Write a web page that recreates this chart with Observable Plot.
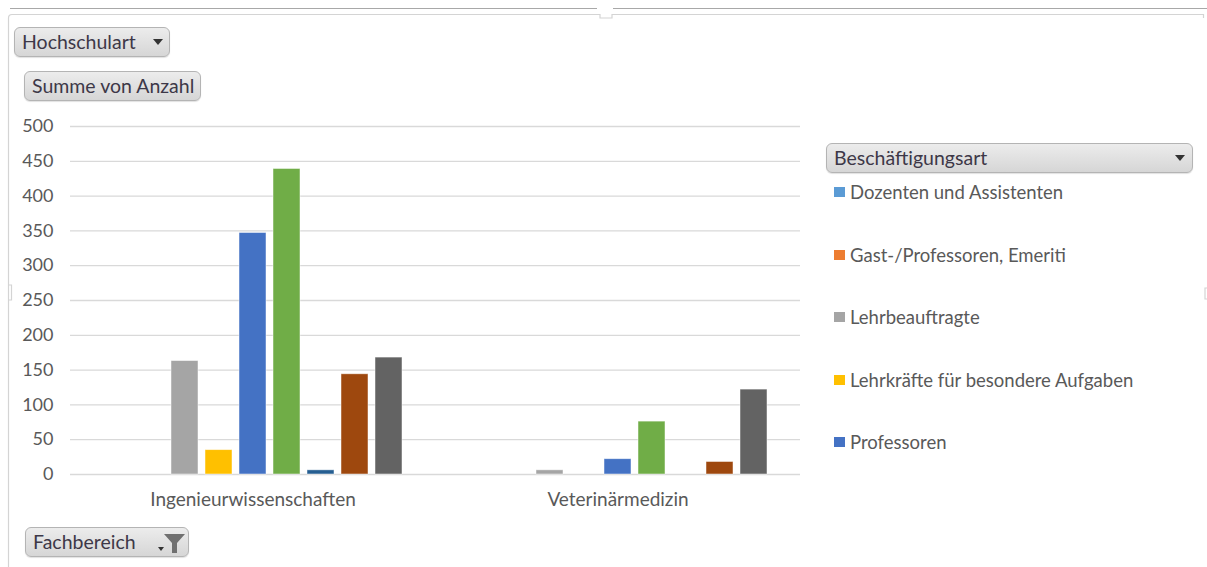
<!DOCTYPE html>
<html lang="de">
<head>
<meta charset="utf-8">
<script src="https://cdn.jsdelivr.net/npm/d3@7"></script>
<script src="https://cdn.jsdelivr.net/npm/@observablehq/plot@0.6"></script>
<style>
  html, body { margin: 0; padding: 0; background: #fff; }
  #page { position: relative; width: 1207px; height: 567px; overflow: hidden; font-family: Lato, "Open Sans", sans-serif; }
  #chart { position: absolute; left: 0; top: 0; }
  .btn {
    position: absolute; box-sizing: border-box; height: 30px;
    border: 1px solid #b4b4b4; border-radius: 6px;
    background: linear-gradient(#ececec, #d6d6d6);
    box-shadow: 0 1px 1px rgba(0,0,0,0.12);
    color: #3d3848; font-size: 19.5px; line-height: 28px; padding-left: 7px;
    white-space: nowrap;
  }
  .btn .tri { position: absolute; top: 11px; width: 0; height: 0;
    border-left: 5px solid transparent; border-right: 5px solid transparent; border-top: 6px solid #333; }
  #legend { position: absolute; left: 834px; top: 0; }
  .entry { position: absolute; left: 0; white-space: nowrap; font-size: 18.5px; color: #595959; line-height: 20px; }
  .entry .sw { position: absolute; left: 0; top: 5px; width: 11px; height: 10px; }
  .entry .tx { position: absolute; left: 16px; top: 0; }
  #frame { position: absolute; left: 0; top: 0; pointer-events: none; }
</style>
</head>
<body>
<div id="page">
  <svg id="frame" width="1207" height="567"></svg>
  <div id="chart"></div>
  <div class="btn" style="left:14px; top:27px; width:156px;">Hochschulart<span class="tri" style="left:138px"></span></div>
  <div class="btn" style="left:24px; top:71px; width:177px;">Summe von Anzahl</div>
  <div class="btn" style="left:826px; top:143px; width:367px;">Beschäftigungsart<span class="tri" style="left:348px"></span></div>
  <div class="btn" style="left:25px; top:527px; width:164px;">Fachbereich
    <svg style="position:absolute; left:130px; top:4px" width="30" height="22" viewBox="0 0 30 22">
      <path d="M2 15 L8 15 L5 19 Z" fill="#333"/>
      <path d="M8 2 L29 2 L21 11 L21 21 L16 21 L16 11 Z" fill="#707070"/>
    </svg>
  </div>
  <div id="legend"></div>
</div>
<script>
// Fachbereiche (Kategorien der x-Achse)
const fachbereiche = ["Ingenieurwissenschaften", "Veterinärmedizin"];

// Beschäftigungsarten (Reihen), in Pivot-Reihenfolge
const arten = [
  "Dozenten und Assistenten",
  "Gast-/Professoren, Emeriti",
  "Lehrbeauftragte",
  "Lehrkräfte für besondere Aufgaben",
  "Professoren",
  "Studentische Hilfskräfte",
  "Tutoren",
  "Wissenschaftliche Hilfskräfte",
  "Wissenschaftliche Mitarbeiter"
];

// Reihenfarben
const farben = ["#5B9BD5", "#ED7D31", "#A5A5A5", "#FFC000", "#4472C4", "#70AD47", "#255E91", "#9E480E", "#636363"];

// Summe von Anzahl je Fachbereich (null = kein Eintrag)
const anzahlIngenieur = [null, null, 163, 35, 347, 439, 6, 144, 168];
const anzahlVeterinaer = [null, null, 6, null, 22, 76, null, 18, 122];

// y-Achsenbeschriftung
const yTicks = [0, 50, 100, 150, 200, 250, 300, 350, 400, 450, 500];

// Legende zeigt nur die ersten fünf Einträge
const legendeAnzahl = 5;

const werte = [anzahlIngenieur, anzahlVeterinaer];
const rows = [];
fachbereiche.forEach((fach, j) => {
  arten.forEach((art, i) => {
    const v = werte[j][i];
    if (v != null) rows.push({fach, art, wert: v});
  });
});

const chart = Plot.plot({
  width: 820,
  height: 520,
  marginLeft: 70,
  marginRight: 20,
  marginTop: 126,
  marginBottom: 46,
  style: {fontFamily: "Lato, 'Open Sans', sans-serif", fontSize: "18px", color: "#595959", background: "transparent", overflow: "visible"},
  fx: {domain: fachbereiche, padding: 0, label: null},
  x: {domain: arten, paddingInner: 0.217, paddingOuter: 0.898, axis: null},
  y: {domain: [0, 500], label: null},
  color: {domain: arten, range: farben},
  marks: [
    Plot.gridY(yTicks, {stroke: "#d9d9d9", strokeOpacity: 1, strokeWidth: 1.3}),
    Plot.axisY(yTicks, {tickSize: 0, tickPadding: 17, label: null, fill: "#595959"}),
    Plot.axisFx({anchor: "bottom", tickSize: 0, tickPadding: 18, label: null, fill: "#595959", fontSize: 19}),
    Plot.barY(rows, {fx: "fach", x: "art", y: "wert", fill: "art", stroke: "#ffffff", strokeOpacity: 0.6, strokeWidth: 0.8})
  ]
});
document.getElementById("chart").append(chart);

// Legende aus der Farbskala des Diagramms
const color = chart.scale("color");
const legend = document.getElementById("legend");
const legendY = d3.scaleLinear().domain([0, legendeAnzahl - 1]).range([182, 432]);
arten.slice(0, legendeAnzahl).forEach((art, i) => {
  const e = document.createElement("div");
  e.className = "entry";
  e.style.top = legendY(i) + "px";
  const sw = document.createElement("span");
  sw.className = "sw";
  sw.style.background = color.apply(art);
  const tx = document.createElement("span");
  tx.className = "tx";
  tx.textContent = art;
  e.append(sw, tx);
  legend.append(e);
});

// Rahmen des Diagrammobjekts
const frame = d3.select("#frame");
frame.append("path").attr("d", "M10 8.5 H597 M613 8.5 H1207").attr("stroke", "#a8a8a8").attr("stroke-width", 1.2).attr("fill", "none");
frame.append("path")
  .attr("d", "M8.5 567 V18 Q8.5 14.5 12 14.5 H600 V18 H612 V14.5 H1203.5 V18")
  .attr("stroke", "#d4d4d4").attr("stroke-width", 1.2).attr("fill", "none");
frame.append("path").attr("d", "M8.5 285 H11.5 V300 H8.5").attr("stroke", "#d4d4d4").attr("stroke-width", 1.2).attr("fill", "none");
frame.append("path").attr("d", "M1207 288 H1205 V299 H1207").attr("stroke", "#d4d4d4").attr("stroke-width", 1.2).attr("fill", "none");
</script>
</body>
</html>
